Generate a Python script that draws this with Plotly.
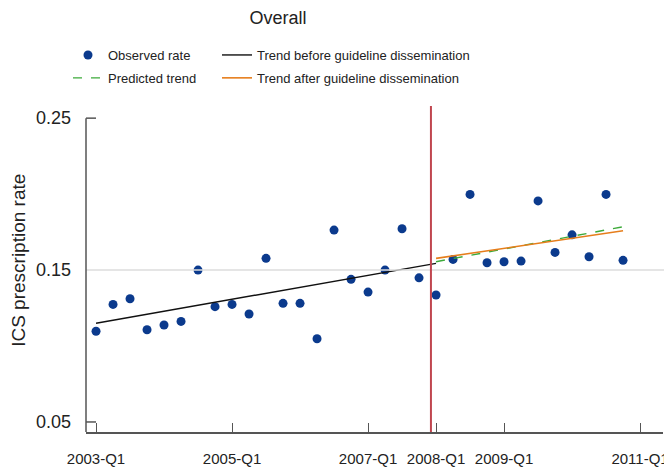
"""ICS prescription rate, interrupted time series (overall)."""
import plotly.graph_objects as go

FONT = "Liberation Sans, Arial, sans-serif"

# quarterly observed rates
quarters = [
    "2003-Q1", "2003-Q2", "2003-Q3", "2003-Q4",
    "2004-Q1", "2004-Q2", "2004-Q3", "2004-Q4",
    "2005-Q1", "2005-Q2", "2005-Q3", "2005-Q4",
    "2006-Q1", "2006-Q2", "2006-Q3", "2006-Q4",
    "2007-Q1", "2007-Q2", "2007-Q3", "2007-Q4",
    "2008-Q1", "2008-Q2", "2008-Q3", "2008-Q4",
    "2009-Q1", "2009-Q2", "2009-Q3", "2009-Q4",
    "2010-Q1", "2010-Q2", "2010-Q3", "2010-Q4",
]
observed = [
    0.1097, 0.1274, 0.1311, 0.1107,
    0.1138, 0.1162, 0.1500, 0.1259,
    0.1274, 0.1211, 0.1577, 0.1281,
    0.1281, 0.1048, 0.1763, 0.1439,
    0.1355, 0.1500, 0.1772, 0.1449,
    0.1336, 0.1570, 0.1998, 0.1548,
    0.1555, 0.1559, 0.1955, 0.1616,
    0.1732, 0.1588, 0.1998, 0.1564,
]

# fitted segments
before_q = ["2003-Q1", "2008-Q1"]
before_trend = [0.1150, 0.1544]
after_q = ["2008-Q1", "2010-Q4"]
after_trend = [0.1577, 0.1759]
predicted_trend = [0.1555, 0.1785]

# guideline dissemination, in quarters since 2003-Q1
dissemination = 19.7

tick_labels = ["2003-Q1", "2005-Q1", "2007-Q1", "2008-Q1", "2009-Q1", "2011-Q1"]
y_ticks = [0.05, 0.15, 0.25]


def qidx(label):
    year, q = label.split("-Q")
    return (int(year) - 2003) * 4 + int(q) - 1


fig = go.Figure()

fig.add_trace(go.Scatter(
    x=[qidx(q) for q in quarters], y=observed, mode="markers",
    name="Observed rate", legend="legend", legendgroup="obs",
    marker=dict(color="#0b3a8d", size=9),
))
fig.add_trace(go.Scatter(
    x=[qidx(q) for q in after_q], y=predicted_trend, mode="lines",
    name="Predicted trend", legend="legend", legendgroup="pred",
    line=dict(color="#3daa3a", width=1.4, dash="dash"),
))
fig.add_trace(go.Scatter(
    x=[qidx(q) for q in before_q], y=before_trend, mode="lines",
    name="Trend before guideline dissemination", legend="legend2",
    legendgroup="before",
    line=dict(color="#111111", width=1.4),
))
fig.add_trace(go.Scatter(
    x=[qidx(q) for q in after_q], y=after_trend, mode="lines",
    name="Trend after guideline dissemination", legend="legend2",
    legendgroup="after",
    line=dict(color="#e67e1c", width=1.6),
))

# reference line at 0.15, drawn over the markers
fig.add_shape(type="line", xref="paper", yref="y", x0=0, x1=1.009,
              y0=y_ticks[1], y1=y_ticks[1], layer="above",
              line=dict(color="#dcdcdc", width=1.5))
# dissemination marker
fig.add_shape(type="line", xref="x", yref="paper", x0=dissemination,
              x1=dissemination, y0=0, y1=1,
              line=dict(color="#c0464f", width=2))
# y axis line stops at the top tick
fig.add_shape(type="line", xref="paper", yref="y", x0=0, x1=0,
              y0=0.0434, y1=y_ticks[-1],
              line=dict(color="#555555", width=1.5))
for v in (y_ticks[0], y_ticks[-1]):
    fig.add_shape(type="line", xref="paper", yref="y", x0=0, x1=10 / 577,
                  y0=v, y1=v, line=dict(color="#555555", width=1.5))

fig.add_annotation(
    text="ICS prescription rate", textangle=-90,
    xref="paper", yref="paper", x=(11 - 78) / 577, y=0.525,
    xanchor="center", yanchor="middle",
    showarrow=False, font=dict(family=FONT, size=19, color="#222222"),
)

legend_style = dict(xanchor="left", yanchor="top", bgcolor="rgba(0,0,0,0)",
                    tracegroupgap=3, font=dict(family=FONT, size=13))

# the page body adds an 8px offset, so the figure is 8px smaller
fig.update_layout(
    width=664, height=459,
    margin=dict(l=78, r=9, t=98, b=35, autoexpand=False),
    plot_bgcolor="white", paper_bgcolor="white",
    font=dict(family=FONT, size=16, color="#222222"),
    title=dict(text="Overall", x=270 / 664, xanchor="center", xref="container",
               y=1 - 10 / 459, yanchor="middle", yref="container",
               font=dict(family=FONT, size=18, color="#222222")),
    legend=dict(x=-18 / 577, y=(424 - 32) / 326, **legend_style),
    legend2=dict(x=131 / 577, y=(424 - 32) / 326, **legend_style),
    xaxis=dict(
        range=[-0.59, 33.35], showgrid=False, zeroline=False, automargin=False,
        showline=True, linecolor="#555555", linewidth=1.5,
        ticks="inside", ticklen=9, tickcolor="#555555", tickwidth=1.3,
        tickvals=[qidx(t) for t in tick_labels], ticktext=tick_labels,
        ticklabelstandoff=12, tickfont=dict(size=15),
    ),
    yaxis=dict(
        range=[0.0434, 0.258], showgrid=False, zeroline=False, automargin=False,
        showline=False, ticks="", tickvals=y_ticks,
        ticktext=[f"{v:.2f}" for v in y_ticks],
        ticklabelstandoff=14, tickfont=dict(size=18),
    ),
)

fig.write_html("out.html")
